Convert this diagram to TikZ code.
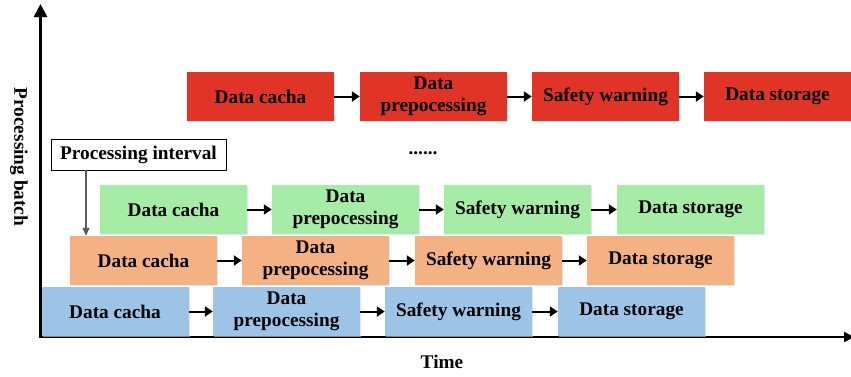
\documentclass[tikz,border=0pt]{standalone}
\usepackage{fontspec}
\setmainfont{Liberation Serif}
\usetikzlibrary{arrows.meta,shadows}

\definecolor{stageRed}{RGB}{223,52,38}
\definecolor{stageGreen}{RGB}{166,235,166}
\definecolor{stageOrange}{RGB}{244,177,131}
\definecolor{stageBlue}{RGB}{157,195,230}
\definecolor{shadowBlue}{RGB}{200,215,235}

\tikzset{
  stagebox/.style={minimum width=147pt, minimum height=49pt, inner sep=0pt,
    align=center, font=\fontsize{19.3}{22}\selectfont\bfseries,
    drop shadow={shadow xshift=1.2pt, shadow yshift=-1.2pt, fill=shadowBlue, opacity=0.6}},
  flow/.style={-{Triangle[length=8pt,width=10pt]}, line width=2pt, black},
  lbl/.style={font=\fontsize{19.3}{22}\selectfont\bfseries, inner sep=0pt},
}

\begin{document}
\begin{tikzpicture}[x=1pt,y=-1pt]
\useasboundingbox (0,0) rectangle (851,376);

% axes
\coordinate (origin) at (40.5,337);
\coordinate (ytop) at (40.5,4);
\coordinate (xend) at (854,337);
\draw[-{Triangle[length=13pt,width=13pt]}, line width=2.7pt] (origin) -- (ytop);
\draw[-{Triangle[length=10pt,width=10pt]}, line width=2.2pt] ([xshift=-1.3pt]origin) -- (xend);
\node[lbl, rotate=-90] (ylabel) at (19,157) {Processing batch};
\node[lbl] (xlabel) at (442,362) {Time};

% batch 1 (blue)
\node[stagebox, fill=stageBlue] (b1) at (115,311.5) {Data cacha};
\node[stagebox, fill=stageBlue] (b2) at (286.5,311.5) {Data\\prepocessing};
\node[stagebox, fill=stageBlue] (b3) at (458.5,311.5) {Safety warning};
\node[stagebox, fill=stageBlue] (b4) at (631.5,311.5) {Data storage};

% batch 2 (orange)
\node[stagebox, fill=stageOrange] (o1) at (143.5,260.5) {Data cacha};
\node[stagebox, fill=stageOrange] (o2) at (315.5,260.5) {Data\\prepocessing};
\node[stagebox, fill=stageOrange] (o3) at (488.5,260.5) {Safety warning};
\node[stagebox, fill=stageOrange] (o4) at (660.5,260.5) {Data storage};

% batch 3 (green)
\node[stagebox, fill=stageGreen] (g1) at (173.5,209.5) {Data cacha};
\node[stagebox, fill=stageGreen] (g2) at (345.5,209.5) {Data\\prepocessing};
\node[stagebox, fill=stageGreen] (g3) at (517.5,209.5) {Safety warning};
\node[stagebox, fill=stageGreen] (g4) at (690.5,209.5) {Data storage};

% last batch (red)
\node[stagebox, fill=stageRed] (r1) at (260.5,96.5) {Data cacha};
\node[stagebox, fill=stageRed] (r2) at (433.5,96.5) {Data\\prepocessing};
\node[stagebox, fill=stageRed] (r3) at (605.5,96.5) {Safety warning};
\node[stagebox, fill=stageRed] (r4) at (777.5,96.5) {Data storage};

\foreach \r in {b,o,g,r}{
  \draw[flow] (\r1) -- (\r2);
  \draw[flow] (\r2) -- (\r3);
  \draw[flow] (\r3) -- (\r4);
}

\node[lbl] (dots) at (423,153) {......};

% processing interval marker
\node[lbl, draw, line width=0.8pt, minimum width=175pt, minimum height=31pt]
  (interval) at (138.5,154.5) {Processing interval};
\coordinate (ivx) at (86,0);
\draw[-{Triangle[length=8pt,width=7pt]}, line width=1.2pt, black!65]
  (interval.south -| ivx) -- (o1.north -| ivx);
\end{tikzpicture}
\end{document}
